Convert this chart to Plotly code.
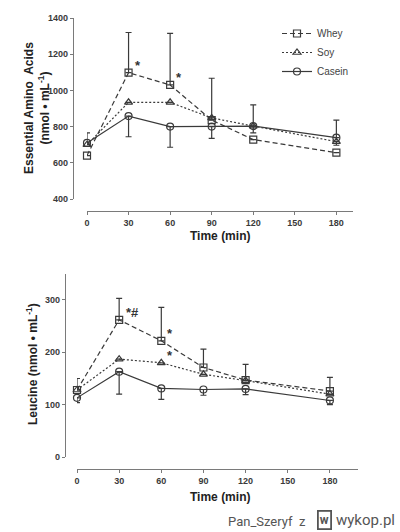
import plotly.graph_objects as go

W, H = 400, 532

time = [0, 30, 60, 90, 120, 180]
x_ticks = [0, 30, 60, 90, 120, 150, 180]

# Essential amino acids (nmol/mL)
eaa_whey = [640, 1098, 1030, 836, 728, 656]
eaa_soy = [700, 934, 934, 848, 803, 717]
eaa_casein = [710, 858, 800, 800, 803, 739]
eaa_whey_up = [0, 222, 285, 231, 0, 0]
eaa_casein_up = [55, 0, 0, 0, 117, 97]
eaa_casein_dn = [0, 114, 114, 65, 0, 0]
eaa_soy_dn = [0, 0, 0, 0, 38, 20]
eaa_yticks = [400, 600, 800, 1000, 1200, 1400]

# Leucine (nmol/mL)
leu_whey = [128, 262, 222, 171, 147, 126]
leu_soy = [128, 187, 180, 158, 146, 120]
leu_casein = [113, 163, 131, 129, 130, 108]
leu_whey_up = [22, 41, 64, 35, 30, 26]
leu_casein_dn = [9, 43, 21, 11, 11, 8]
leu_yticks = [0, 100, 200, 300]

# significance marks: (time, value, label)
eaa_sig = [(30, eaa_whey[1], "*"), (60, eaa_whey[2], "*")]
leu_sig = [(30, leu_whey[1], "*#"), (60, leu_whey[2], "*"), (60, leu_soy[2], "*")]

INK = "#3a3a3a"
AX = "#7a7a7a"
FONT = "Liberation Sans, Arial, sans-serif"

def px_x(p):
    return p / W

def px_y(p):
    return 1 - p / H

fig = go.Figure()

styles = {
    "Whey": dict(dash="5px,3px", symbol="square-open"),
    "Soy": dict(dash="2px,2px", symbol="triangle-up-open"),
    "Casein": dict(dash="solid", symbol="circle-open"),
}

def add_series(name, xs, ys, up, dn, xa, ya, show):
    st = styles[name]
    fig.add_trace(go.Scatter(
        x=xs, y=ys, name=name, mode="lines+markers",
        xaxis=xa, yaxis=ya, showlegend=show, cliponaxis=False,
        line=dict(color=INK, width=1.2, dash=st["dash"]),
        marker=dict(symbol=st["symbol"], size=7, color=INK,
                    line=dict(color=INK, width=1.2)),
        error_y=dict(type="data", symmetric=False, array=up, arrayminus=dn,
                     color=INK, thickness=1.2, width=3),
    ))

zeros = [0] * len(time)
add_series("Whey", time, eaa_whey, eaa_whey_up, zeros, "x", "y", True)
add_series("Soy", time, eaa_soy, zeros, eaa_soy_dn, "x", "y", True)
add_series("Casein", time, eaa_casein, eaa_casein_up, eaa_casein_dn, "x", "y", True)

add_series("Whey", time, leu_whey, leu_whey_up, zeros, "x2", "y2", False)
add_series("Soy", time, leu_soy, zeros, zeros, "x2", "y2", False)
add_series("Casein", time, leu_casein, zeros, leu_casein_dn, "x2", "y2", False)

tickfont = dict(family=FONT, size=9, color=INK, weight="bold")
axis_common = dict(showgrid=False, zeroline=False, showline=True, linecolor=AX,
                   linewidth=1.3, ticks="outside", tickcolor=AX, ticklen=3,
                   tickwidth=1.2, tickfont=tickfont, automargin=False)

fig.update_layout(
    width=W, height=H,
    margin=dict(l=0, r=0, t=0, b=0, autoexpand=False),
    plot_bgcolor="white", paper_bgcolor="white",
    font=dict(family=FONT, color=INK),
    xaxis=dict(domain=[px_x(87), px_x(353)], range=[0, 192], anchor="free",
               position=px_y(211), tickvals=x_ticks, **axis_common),
    yaxis=dict(domain=[px_y(199), px_y(18)], range=[400, 1400], anchor="free",
               position=px_x(73), tickvals=eaa_yticks, **axis_common),
    xaxis2=dict(domain=[px_x(77), px_x(358)], range=[0, 200], anchor="free",
                position=px_y(469), tickvals=x_ticks, **axis_common),
    yaxis2=dict(domain=[px_y(457), px_y(273.8)], range=[0, 350], anchor="free",
                position=px_x(65), tickvals=leu_yticks, **axis_common),
    legend=dict(x=px_x(277), y=px_y(19), xanchor="left", yanchor="top",
                font=dict(family=FONT, size=10, color="#444"),
                bgcolor="rgba(0,0,0,0)", itemwidth=30, tracegroupgap=0),
)

ann = []
title_font = dict(family=FONT, size=12, color="#222")

def pann(text, x, y, font, xanchor="center", angle=0, **kw):
    d = dict(text=text, x=px_x(x), y=px_y(y), xref="paper", yref="paper",
             xanchor=xanchor, yanchor="middle", textangle=angle,
             showarrow=False, font=font)
    d.update(kw)
    return d

ann.append(pann("<b>Essential Amino  Acids</b><br><b>(nmol • mL<sup>-1</sup>)</b>",
                37, 108, title_font, angle=-90))
ann.append(pann("<b>Leucine (nmol • mL<sup>-1</sup>)</b>", 32, 364, title_font, angle=-90))
ann.append(pann("<b>Time (min)</b>", 220, 236, title_font))
ann.append(pann("<b>Time (min)</b>", 220, 497, title_font))

star_font = dict(family=FONT, size=13, color="#333333", weight="bold")
for t, v, lab in eaa_sig:
    ann.append(dict(text=lab, x=t, y=v, xref="x", yref="y", showarrow=False,
                    xanchor="center", yanchor="middle",
                    xshift=9, yshift=7, font=star_font))
for t, v, lab in leu_sig:
    ann.append(dict(text=lab, x=t, y=v, xref="x2", yref="y2", showarrow=False,
                    xanchor="center", yanchor="middle",
                    xshift=13 if len(lab) > 1 else 9, yshift=7, font=star_font))

wm_font = dict(family="Roboto, Noto Sans, sans-serif", size=13, color="#555")
ann.append(pann("Pan_Szeryf  z", 308, 521, wm_font, xanchor="right"))
ann.append(pann("<b>w</b>", 324, 520, dict(family="Roboto, sans-serif", size=12, color="#555"),
                bordercolor="#555", borderwidth=1.8, borderpad=1))
ann.append(pann("wykop.pl", 334, 520, dict(family="Roboto, Noto Sans, sans-serif", size=15, color="#555"),
                xanchor="left"))

fig.update_layout(annotations=ann)
fig.write_html("out.html", post_script="document.body.style.margin='0';",
               config={"displayModeBar": False})
